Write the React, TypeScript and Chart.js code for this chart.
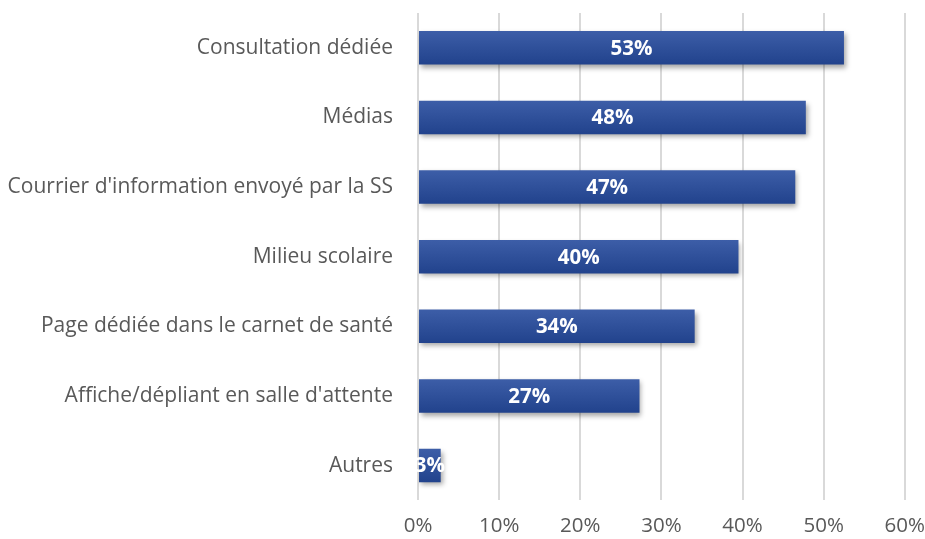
import React, { useEffect, useRef } from "react";
import { Chart, registerables } from "chart.js";

Chart.register(...registerables);

const categories = [
  "Consultation dédiée",
  "Médias",
  "Courrier d'information envoyé par la SS",
  "Milieu scolaire",
  "Page dédiée dans le carnet de santé",
  "Affiche/dépliant en salle d'attente",
  "Autres",
];
const values = [52.5, 47.8, 46.5, 39.5, 34.1, 27.3, 2.8];
const valueLabels = ["53%", "48%", "47%", "40%", "34%", "27%", "3%"];
const xTicks = [0, 10, 20, 30, 40, 50, 60];

const FONT = "'Open Sans', 'Noto Sans', sans-serif";

export default function App() {
  const ref = useRef<HTMLCanvasElement>(null);
  useEffect(() => {
    if (!ref.current) return;
    const shadowPlugin = {
      id: "shadow",
      beforeDatasetsDraw(chart: any) {
        const ctx = chart.ctx;
        ctx.save();
        ctx.shadowColor = "rgba(0,0,0,0.35)";
        ctx.shadowBlur = 5;
        ctx.shadowOffsetX = 2;
        ctx.shadowOffsetY = 3;
      },
      afterDatasetsDraw(chart: any) {
        chart.ctx.restore();
        const ctx = chart.ctx;
        const meta = chart.getDatasetMeta(0);
        ctx.save();
        ctx.fillStyle = "#ffffff";
        ctx.font = `bold 20.5px ${FONT}`;
        ctx.textAlign = "center";
        ctx.textBaseline = "middle";
        meta.data.forEach((bar: any, i: number) => {
          const x = (bar.x + bar.base) / 2;
          ctx.fillText(valueLabels[i], x, bar.y + 1);
        });
        ctx.restore();
      },
    };
    const chart = new Chart(ref.current, {
      type: "bar",
      data: {
        labels: categories,
        datasets: [
          {
            data: values,
            backgroundColor: (c: any) => {
              const chart = c.chart;
              const y = chart.scales && chart.scales.y;
              if (!y || c.dataIndex === undefined) return "#2C4D98";
              const cy = y.getPixelForValue(c.dataIndex);
              if (!isFinite(cy)) return "#2C4D98";
              const g = chart.ctx.createLinearGradient(0, cy - 17, 0, cy + 17);
              g.addColorStop(0, "#3D5EA8");
              g.addColorStop(1, "#21428C");
              return g;
            },
            borderWidth: 0,
            categoryPercentage: 1,
            barPercentage: 0.48,
          },
        ],
      },
      options: {
        indexAxis: "y",
        animation: false,
        responsive: true,
        maintainAspectRatio: false,
        layout: { padding: { top: 13, right: 20, left: 0, bottom: 1 } },
        plugins: { legend: { display: false }, tooltip: { enabled: false } },
        scales: {
          x: {
            min: 0,
            max: 60,
            afterBuildTicks: (axis: any) => {
              axis.ticks = xTicks.map((v) => ({ value: v }));
            },
            ticks: {
              callback: (v: any) => v + "%",
              color: "#595959",
              font: { family: FONT, size: 20.5 },
              padding: 0,
              maxRotation: 0,
            },
            grid: {
              color: "#D9D9D9",
              lineWidth: 2,
              drawTicks: true,
              tickLength: 13,
              tickColor: "rgba(0,0,0,0)",
            },
            border: { display: false },
          },
          y: {
            ticks: {
              color: "#595959",
              font: { family: FONT, size: 21 },
              padding: 0,
            },
            grid: {
              display: true,
              color: "rgba(0,0,0,0)",
              drawTicks: true,
              tickLength: 25,
              tickColor: "rgba(0,0,0,0)",
            },
            border: { display: false },
            afterFit: (axis: any) => {
              axis.width = 418;
            },
          },
        },
      },
      plugins: [shadowPlugin],
    } as any);
    return () => chart.destroy();
  }, []);
  return (
    <div style={{ position: "fixed", left: 0, top: 0, width: 925, height: 539, background: "#fff" }}>
      <canvas ref={ref} />
    </div>
  );
}
